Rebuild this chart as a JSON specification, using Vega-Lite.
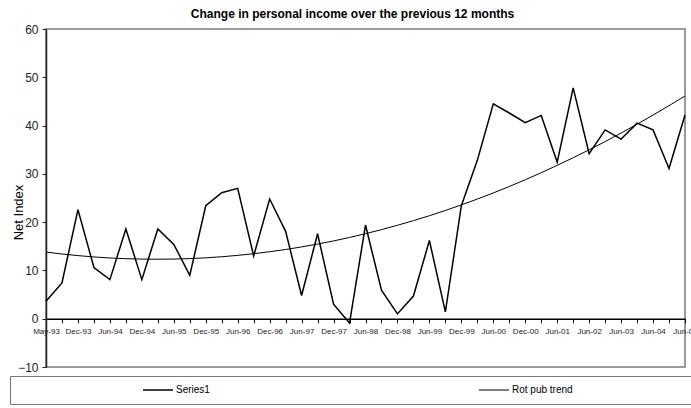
{
  "$schema": "https://vega.github.io/schema/vega-lite/v6.json",
  "width": 639,
  "height": 338,
  "autosize": {"type": "none"},
  "padding": {"left": 46, "top": 29, "right": 6, "bottom": 41},
  "background": "white",
  "title": {
    "text": "Change in personal income over the previous 12 months",
    "font": "Liberation Sans",
    "fontSize": 12,
    "fontWeight": "bold",
    "color": "black",
    "anchor": "middle",
    "dx": -13,
    "offset": 2
  },
  "data": {
    "values": [
      {"date": "May-93", "Series1": 3.6, "Rot pub trend": 13.80},
      {"date": "Sep-93", "Series1": 7.4, "Rot pub trend": 13.40},
      {"date": "Dec-93", "Series1": 22.6, "Rot pub trend": 13.07},
      {"date": "Mar-94", "Series1": 10.6, "Rot pub trend": 12.79},
      {"date": "Jun-94", "Series1": 8.1, "Rot pub trend": 12.58},
      {"date": "Sep-94", "Series1": 18.6, "Rot pub trend": 12.43},
      {"date": "Dec-94", "Series1": 8.1, "Rot pub trend": 12.35},
      {"date": "Mar-95", "Series1": 18.6, "Rot pub trend": 12.32},
      {"date": "Jun-95", "Series1": 15.4, "Rot pub trend": 12.36},
      {"date": "Sep-95", "Series1": 9.0, "Rot pub trend": 12.45},
      {"date": "Dec-95", "Series1": 23.4, "Rot pub trend": 12.61},
      {"date": "Mar-96", "Series1": 26.1, "Rot pub trend": 12.83},
      {"date": "Jun-96", "Series1": 27.0, "Rot pub trend": 13.12},
      {"date": "Sep-96", "Series1": 13.0, "Rot pub trend": 13.46},
      {"date": "Dec-96", "Series1": 24.8, "Rot pub trend": 13.87},
      {"date": "Mar-97", "Series1": 18.1, "Rot pub trend": 14.34},
      {"date": "Jun-97", "Series1": 4.8, "Rot pub trend": 14.87},
      {"date": "Sep-97", "Series1": 17.6, "Rot pub trend": 15.46},
      {"date": "Dec-97", "Series1": 3.0, "Rot pub trend": 16.11},
      {"date": "Mar-98", "Series1": -0.9, "Rot pub trend": 16.83},
      {"date": "Jun-98", "Series1": 19.4, "Rot pub trend": 17.61},
      {"date": "Sep-98", "Series1": 5.9, "Rot pub trend": 18.45},
      {"date": "Dec-98", "Series1": 1.0, "Rot pub trend": 19.35},
      {"date": "Mar-99", "Series1": 4.7, "Rot pub trend": 20.31},
      {"date": "Jun-99", "Series1": 16.2, "Rot pub trend": 21.33},
      {"date": "Sep-99", "Series1": 1.4, "Rot pub trend": 22.42},
      {"date": "Dec-99", "Series1": 23.4, "Rot pub trend": 23.57},
      {"date": "Mar-00", "Series1": 32.8, "Rot pub trend": 24.78},
      {"date": "Jun-00", "Series1": 44.5, "Rot pub trend": 26.05},
      {"date": "Sep-00", "Series1": 42.6, "Rot pub trend": 27.38},
      {"date": "Dec-00", "Series1": 40.6, "Rot pub trend": 28.78},
      {"date": "Mar-01", "Series1": 42.1, "Rot pub trend": 30.24},
      {"date": "Jun-01", "Series1": 32.4, "Rot pub trend": 31.76},
      {"date": "Dec-01", "Series1": 47.8, "Rot pub trend": 33.34},
      {"date": "Jun-02", "Series1": 34.2, "Rot pub trend": 34.98},
      {"date": "Dec-02", "Series1": 39.1, "Rot pub trend": 36.68},
      {"date": "Jun-03", "Series1": 37.2, "Rot pub trend": 38.45},
      {"date": "Dec-03", "Series1": 40.5, "Rot pub trend": 40.28},
      {"date": "Jun-04", "Series1": 39.1, "Rot pub trend": 42.17},
      {"date": "Dec-04", "Series1": 31.1, "Rot pub trend": 44.12},
      {"date": "Jun-05", "Series1": 42.2, "Rot pub trend": 46.13}
    ]
  },
  "transform": [
    {"fold": ["Series1", "Rot pub trend"], "as": ["series", "value"]}
  ],
  "mark": {"type": "line", "strokeJoin": "miter"},
  "encoding": {
    "x": {
      "field": "date",
      "type": "ordinal",
      "sort": null,
      "scale": {"type": "point", "padding": 0},
      "axis": {
        "title": null,
        "offset": -48.29,
        "domainColor": "black",
        "domainWidth": 1.5,
        "tickColor": "black",
        "tickSize": 4,
        "tickWidth": 1,
        "labelAngle": 0,
        "labelOverlap": false,
        "labelPadding": 5,
        "labelFont": "Liberation Sans",
        "labelFontSize": 8,
        "labelColor": "#222",
        "labelExpr": "indexof(['May-93','Dec-93','Jun-94','Dec-94','Jun-95','Dec-95','Jun-96','Dec-96','Jun-97','Dec-97','Jun-98','Dec-98','Jun-99','Dec-99','Jun-00','Dec-00','Jun-01','Jun-02','Jun-03','Jun-04','Jun-05'], datum.label) >= 0 ? datum.label : ''"
      }
    },
    "y": {
      "field": "value",
      "type": "quantitative",
      "scale": {"domain": [-10, 60], "nice": false, "zero": false},
      "axis": {
        "title": "Net Index",
        "titleFont": "Liberation Sans",
        "titleFontSize": 13,
        "titleFontWeight": "normal",
        "titleColor": "black",
        "titleX": -28,
        "titleY": 183,
        "titleAlign": "center",
        "titleBaseline": "middle",
        "values": [-10, 0, 10, 20, 30, 40, 50, 60],
        "grid": false,
        "domainColor": "#222",
        "domainWidth": 1.5,
        "tickColor": "#222",
        "tickSize": 4,
        "labelFont": "Liberation Sans",
        "labelFontSize": 12,
        "labelColor": "#222",
        "labelPadding": 4
      }
    },
    "color": {
      "field": "series",
      "type": "nominal",
      "scale": {"domain": ["Series1", "Rot pub trend"], "range": ["black", "black"]},
      "legend": {
        "title": " ",
        "titleOrient": "left",
        "titleFontSize": 1,
        "titlePadding": 124,
        "orient": "none",
        "legendX": -36,
        "legendY": 347,
        "direction": "horizontal",
        "columns": 2,
        "columnPadding": 268,
        "padding": 8,
        "clipHeight": 12,
        "symbolType": "stroke",
        "symbolSize": 900,
        "symbolStrokeWidth": 1.5,
        "labelOffset": 2,
        "labelFont": "Liberation Sans",
        "labelFontSize": 10,
        "labelColor": "black",
        "labelLimit": 500,
        "labelExpr": "datum.value == 'Rot pub trend' ? datum.label + '\u2800\u2800\u2800\u2800\u2800\u2800\u2800\u2800\u2800\u2800\u2800\u2800\u2800\u2800\u2800\u2800\u2800' : datum.label",
        "fillColor": "white",
        "strokeColor": "#777"
      }
    },
    "strokeWidth": {
      "field": "series",
      "type": "nominal",
      "scale": {"domain": ["Series1", "Rot pub trend"], "range": [1.5, 1]},
      "legend": null
    }
  },
  "config": {
    "view": {"stroke": "#9a9a9a", "strokeWidth": 2}
  }
}
